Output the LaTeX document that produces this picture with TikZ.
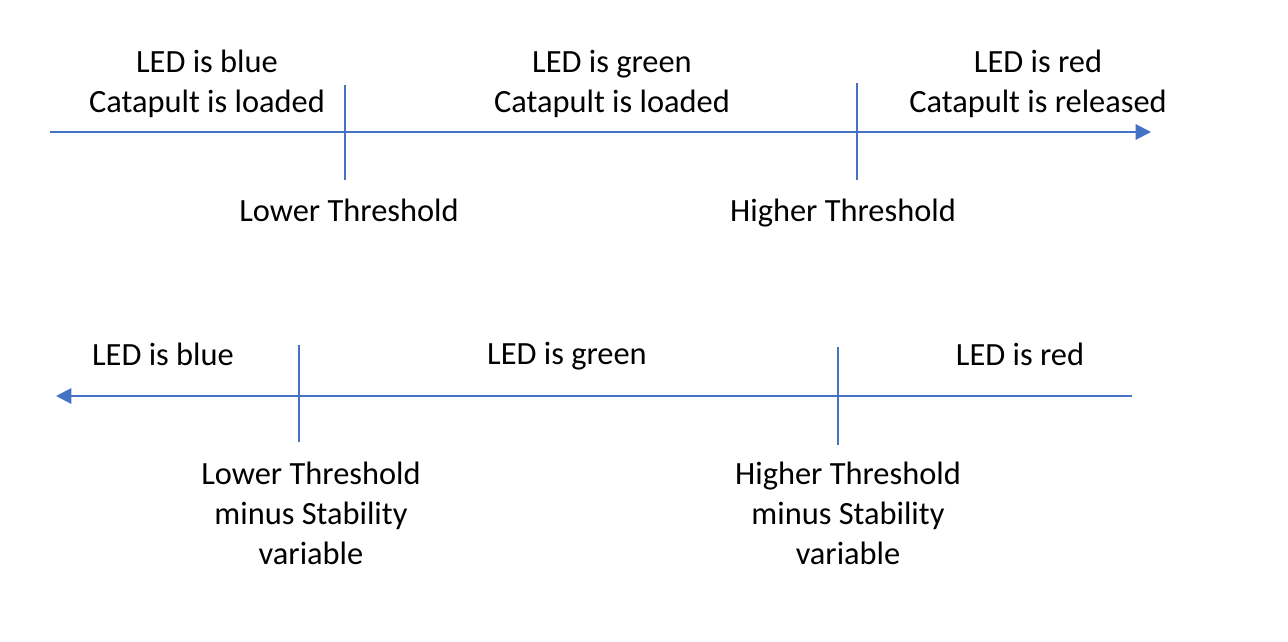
\documentclass[tikz,border=0pt]{standalone}
\usepackage{fontspec}
\setmainfont{Carlito}
\usetikzlibrary{arrows.meta}
\definecolor{axisblue}{HTML}{4472C4}
\begin{document}
\begin{tikzpicture}[x=0.75pt,y=-0.75pt,
  axis/.style={draw=axisblue,line width=1.5pt,-{Triangle[length=11.5pt,width=11.5pt]}},
  tick/.style={draw=axisblue,line width=1.5pt},
  lbl/.style={align=center,inner sep=0pt,font=\fontsize{24.3}{30}\selectfont}]
\useasboundingbox (0,0) rectangle (1288,642);

% upper scale: rising value
\coordinate (a1s) at (50,132);
\coordinate (a1e) at (1151,132);
\draw[axis] (a1s) -- (a1e);
\coordinate (t1a) at (345,85);  \coordinate (t1b) at (345,180);
\coordinate (t2a) at (857,83);  \coordinate (t2b) at (857,180);
\draw[tick] (t1a) -- (t1b);
\draw[tick] (t2a) -- (t2b);

\node[lbl] (u1) at (207,84) {LED is blue\\Catapult is loaded};
\node[lbl] (u2) at (612,84) {LED is green\\Catapult is loaded};
\node[lbl] (u3) at (1038,84) {LED is red\\Catapult is released};
\node[lbl] (ulo) at (349,210) {Lower Threshold};
\node[lbl] (uhi) at (843,213) {Higher Threshold};

% lower scale: falling value
\coordinate (a2s) at (1132,396);
\coordinate (a2e) at (56,396);
\draw[axis] (a2s) -- (a2e);
\coordinate (t3a) at (299,345); \coordinate (t3b) at (299,442);
\coordinate (t4a) at (838,347); \coordinate (t4b) at (838,445);
\draw[tick] (t3a) -- (t3b);
\draw[tick] (t4a) -- (t4b);

\node[lbl] (l1) at (163,354) {LED is blue};
\node[lbl] (l2) at (567,356) {LED is green};
\node[lbl] (l3) at (1020,354) {LED is red};
\node[lbl] (llo) at (311,513) {Lower Threshold\\minus Stability\\variable};
\node[lbl] (lhi) at (848,513) {Higher Threshold\\minus Stability\\variable};
\end{tikzpicture}
\end{document}
